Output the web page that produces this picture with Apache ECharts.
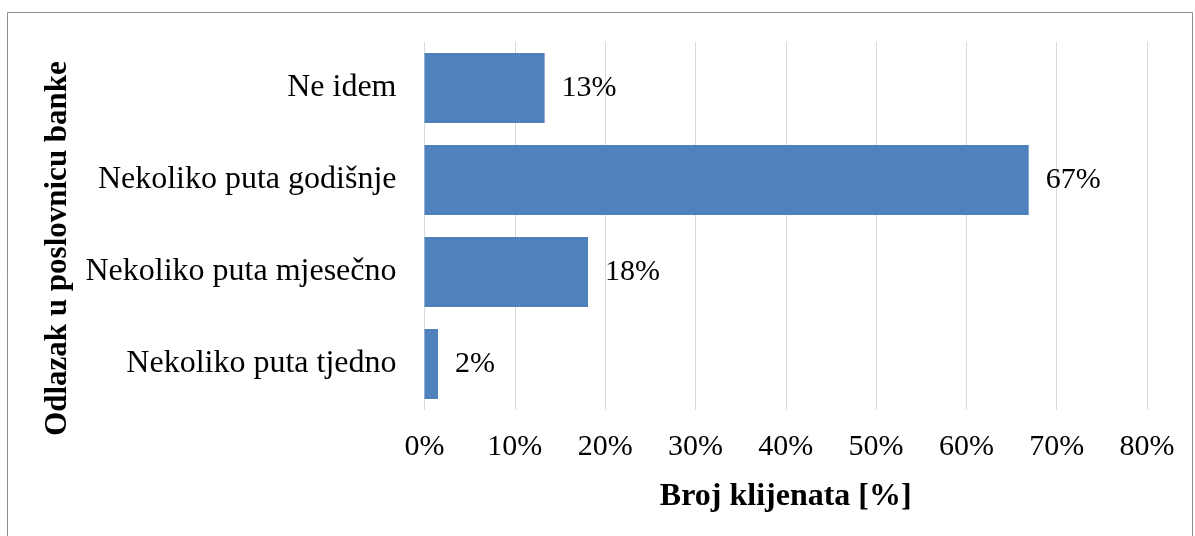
<!DOCTYPE html>
<html>
<head>
<meta charset="utf-8">
<script src="https://cdn.jsdelivr.net/npm/echarts@6/dist/echarts.min.js"></script>
<style>
html,body{margin:0;padding:0;background:#fff;}
#chart{width:1195px;height:536px;}
</style>
</head>
<body>
<div id="chart"></div>
<script>
const categories = ['Ne idem', 'Nekoliko puta godišnje', 'Nekoliko puta mjesečno', 'Nekoliko puta tjedno'];
const values = [13.3, 66.9, 18.1, 1.5];
const labels = ['13%', '67%', '18%', '2%'];
const xTicks = { min: 0, max: 80, interval: 10 };
const yTitle = 'Odlazak u poslovnicu banke';
const xTitle = 'Broj klijenata [%]';

const font = '"Liberation Serif", "Times New Roman", serif';
const chart = echarts.init(document.getElementById('chart'), null, { renderer: 'canvas' });
chart.setOption({
  animation: false,
  backgroundColor: '#fff',
  grid: { left: 424.5, right: 48, top: 42, bottom: 126, containLabel: false },
  graphic: [
    { type: 'rect', shape: { x: 7.5, y: 12.5, width: 1185, height: 540 }, style: { fill: 'none', stroke: '#8c8c8c', lineWidth: 1 } },
    { type: 'text', x: 58, y: 248.5, rotation: Math.PI / 2,
      style: { text: yTitle, font: 'bold 31px ' + font, fill: '#000', align: 'center', verticalAlign: 'middle' } }
  ],
  xAxis: {
    type: 'value', min: xTicks.min, max: xTicks.max, interval: xTicks.interval,
    axisLine: { show: false }, axisTick: { show: false },
    splitLine: { show: true, lineStyle: { color: '#d9d9d9', width: 1 } },
    axisLabel: { formatter: v => v + '%', fontFamily: font, fontSize: 30, color: '#000', margin: 22 },
    name: xTitle, nameLocation: 'middle', nameGap: 71,
    nameTextStyle: { fontFamily: font, fontSize: 32, fontWeight: 'bold', color: '#000' }
  },
  yAxis: {
    type: 'category', data: categories, inverse: true,
    axisLine: { show: false }, axisTick: { show: false },
    axisLabel: { fontFamily: font, fontSize: 32, color: '#000', margin: 28 }
  },
  series: [{
    type: 'bar', data: values, barWidth: '76%',
    itemStyle: { color: '#4f81bd' },
    label: { show: true, position: 'right', distance: 17,
      formatter: p => labels[p.dataIndex],
      fontFamily: font, fontSize: 30, color: '#000' }
  }]
});
</script>
</body>
</html>
